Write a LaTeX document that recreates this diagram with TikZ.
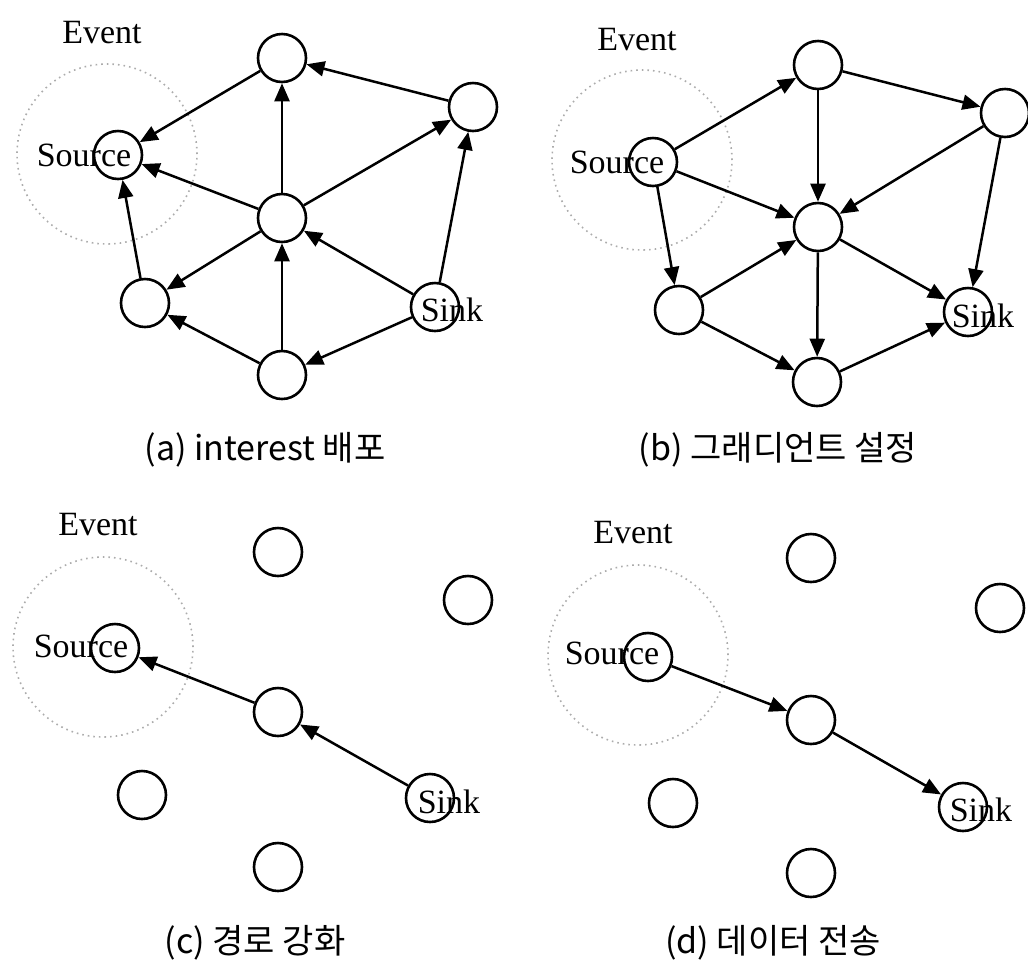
\documentclass[tikz,border=0pt]{standalone}
\usepackage{fontspec}
\setmainfont{Liberation Serif}
\newfontfamily\krfont{Noto Sans CJK KR}
\usetikzlibrary{arrows.meta}

\tikzset{
  sensor/.style={draw, circle, line width=1.3pt, minimum size=24pt, inner sep=0pt},
  region/.style={draw=gray!65, dotted, line width=0.8pt, circle, minimum size=90pt, inner sep=0pt},
  lbl/.style={font=\fontsize{17}{20}\selectfont, inner sep=0pt},
  subcap/.style={font=\krfont\fontsize{17}{20}\selectfont, inner sep=0pt},
  link/.style={line width=1.25pt, -{Triangle[length=9pt,width=7.5pt]}},
}

\begin{document}
\begin{tikzpicture}[x=0.5pt, y=-0.5pt]
        \useasboundingbox (0,0) rectangle (1028,965);

        % (a) interest
        \node[region] at (107,154)   (a-ev)    {};
        \node[lbl] at (102,33)       (a-evl)   {Event};
        \node[lbl] at (84,155)       (a-srcl)  {Source};
        \node[lbl] at (452,310)      (a-sinkl) {Sink};
        \node[sensor] at (118,155)   (a-src)   {};
        \node[sensor] at (282,58)    (a-top)   {};
        \node[sensor] at (473,107)   (a-right) {};
        \node[sensor] at (282,218)   (a-mid)   {};
        \node[sensor] at (145,303)   (a-left)  {};
        \node[sensor] at (435,307)   (a-sink)  {};
        \node[sensor] at (282,375)   (a-bot)   {};
        \node[subcap] at (265,450)   (a-cap)   {(a) interest 배포};

        \draw[link] (a-top) -- (a-src);
        \draw[link] (a-right) -- (a-top);
        \draw[link] (a-mid) -- (a-top);
        \draw[link] (a-mid) -- (a-src);
        \draw[link] (a-mid) -- (a-right);
        \draw[link] (a-left) -- (a-src);
        \draw[link] (a-mid) -- (a-left);
        \draw[link] (a-bot) -- (a-mid);
        \draw[link] (a-bot) -- (a-left);
        \draw[link] (a-sink) -- (a-mid);
        \draw[link] (a-sink) -- (a-right);
        \draw[link] (a-sink) -- (a-bot);

        % (b) gradient
        \node[region] at (642,160)   (b-ev)    {};
        \node[lbl] at (637,40)       (b-evl)   {Event};
        \node[lbl] at (617,162)      (b-srcl)  {Source};
        \node[lbl] at (983,316)      (b-sinkl) {Sink};
        \node[sensor] at (653,162)   (b-src)   {};
        \node[sensor] at (818,65)    (b-top)   {};
        \node[sensor] at (1005,113)  (b-right) {};
        \node[sensor] at (818,227)   (b-mid)   {};
        \node[sensor] at (679,310)   (b-left)  {};
        \node[sensor] at (968,312)   (b-sink)  {};
        \node[sensor] at (817,382)   (b-bot)   {};
        \node[subcap] at (778,450)   (b-cap)   {(b) 그래디언트 설정};

        \draw[link] (b-src) -- (b-top);
        \draw[link] (b-src) -- (b-mid);
        \draw[link] (b-src) -- (b-left);
        \draw[link] (b-top) -- (b-right);
        \draw[link] (b-top) -- (b-mid);
        \draw[link] (b-right) -- (b-mid);
        \draw[link] (b-right) -- (b-sink);
        \draw[link] (b-left) -- (b-mid);
        \draw[link] (b-left) -- (b-bot);
        \draw[link] (b-mid) -- (b-sink);
        \draw[link] (b-mid) -- (b-bot);
        \draw[link] (b-bot) -- (b-sink);

        % (c) reinforcement
        \node[region] at (103,647)   (c-ev)    {};
        \node[lbl] at (98,525)       (c-evl)   {Event};
        \node[lbl] at (81,646)       (c-srcl)  {Source};
        \node[lbl] at (449,802)      (c-sinkl) {Sink};
        \node[sensor] at (115,648)   (c-src)   {};
        \node[sensor] at (278,552)   (c-top)   {};
        \node[sensor] at (468,600)   (c-right) {};
        \node[sensor] at (278,712)   (c-mid)   {};
        \node[sensor] at (142,795)   (c-left)  {};
        \node[sensor] at (430,798)   (c-sink)  {};
        \node[sensor] at (278,867)   (c-bot)   {};
        \node[subcap] at (255,943)   (c-cap)   {(c) 경로 강화};

        \draw[link] (c-sink) -- (c-mid);
        \draw[link] (c-mid) -- (c-src);

        % (d) data
        \node[region] at (638,655)   (d-ev)    {};
        \node[lbl] at (633,533)      (d-evl)   {Event};
        \node[lbl] at (612,653)      (d-srcl)  {Source};
        \node[lbl] at (981,810)      (d-sinkl) {Sink};
        \node[sensor] at (648,657)   (d-src)   {};
        \node[sensor] at (811,558)   (d-top)   {};
        \node[sensor] at (1000,608)  (d-right) {};
        \node[sensor] at (811,720)   (d-mid)   {};
        \node[sensor] at (673,803)   (d-left)  {};
        \node[sensor] at (963,807)   (d-sink)  {};
        \node[sensor] at (811,873)   (d-bot)   {};
        \node[subcap] at (773,943)   (d-cap)   {(d) 데이터 전송};

        \draw[link] (d-src) -- (d-mid);
        \draw[link] (d-mid) -- (d-sink);
\end{tikzpicture}
\end{document}
